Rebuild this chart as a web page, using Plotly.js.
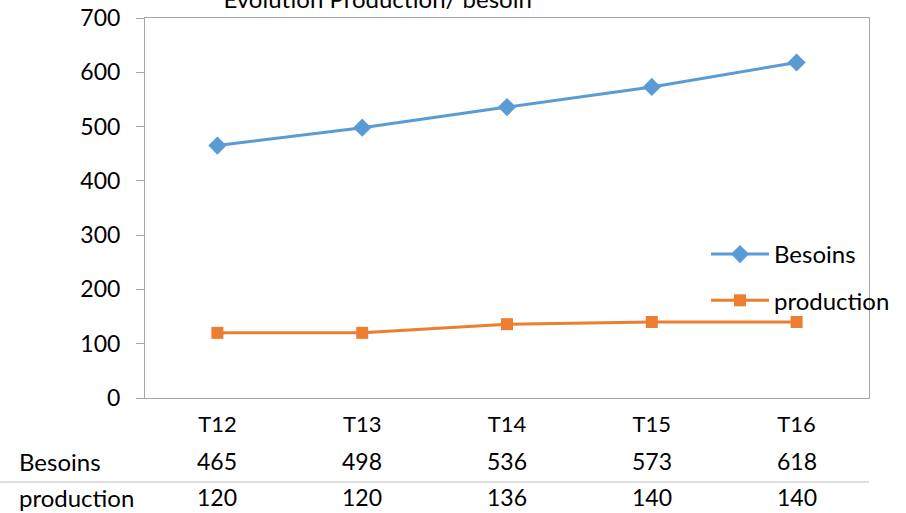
<!DOCTYPE html>
<html>
<head>
<meta charset="utf-8">
<script src="https://cdn.plot.ly/plotly-3.0.1.min.js"></script>
<style>html,body{margin:0;padding:0;background:#fff;}#chart{width:906px;height:513px;}</style>
</head>
<body>
<div id="chart"></div>
<script>
var categories = ["T12", "T13", "T14", "T15", "T16"];
var besoins = [465, 498, 536, 573, 618];
var production = [120, 120, 136, 140, 140];
var seriesNames = ["Besoins", "production"];
var yTicks = [0, 100, 200, 300, 400, 500, 600, 700];
var titleText = "Evolution Production/ besoin";

var FONT = "Lato, 'Open Sans', sans-serif";
var W = 906, H = 513, ML = 145, MR = 36, MT = 18, MB = 115;
var PW = W - ML - MR, PH = H - MT - MB;
function px2x(p) { return (p - ML) / PW; }
function py2y(p) { return (H - MB - p) / PH; }

var traces = [
  {x: categories, y: besoins, name: seriesNames[0], type: "scatter", mode: "lines+markers",
   line: {color: "#5B9BD5", width: 3}, marker: {symbol: "diamond", size: 14, color: "#5B9BD5"}, legendgroup: "a"},
  {x: categories, y: production, name: seriesNames[1], type: "scatter", mode: "lines+markers",
   line: {color: "#ED7D31", width: 3}, marker: {symbol: "square", size: 12, color: "#ED7D31"}, legendgroup: "b"}
];

var annotations = [];
var rows = [[seriesNames[0], besoins, 461], [seriesNames[1], production, 497]];
rows.forEach(function (r) {
  annotations.push({xref: "paper", yref: "paper", x: px2x(17), y: py2y(r[2]), xanchor: "left", yanchor: "middle",
    text: r[0], showarrow: false, font: {family: FONT, size: 24, color: "#000"}});
  r[1].forEach(function (v, i) {
    annotations.push({xref: "x", yref: "paper", x: categories[i], y: py2y(r[2]), xanchor: "center", yanchor: "middle",
      text: String(v), showarrow: false, font: {family: FONT, size: 23, color: "#000"}});
  });
});

var layout = {
  width: W, height: H,
  margin: {l: ML, r: MR, t: MT, b: MB},
  paper_bgcolor: "#fff", plot_bgcolor: "#fff",
  font: {family: FONT, size: 23, color: "#000"},
  title: {text: titleText, font: {family: FONT, size: 24, color: "#000"}, xref: "paper", x: px2x(378), xanchor: "center",
          yref: "container", y: 1, yanchor: "middle"},
  xaxis: {type: "category", range: [-0.5, 4.5], showgrid: false, zeroline: false,
          showline: true, linecolor: "#a6a6a6", linewidth: 1, mirror: true, ticks: "", ticklabelstandoff: 7,
          tickfont: {family: FONT, size: 22, color: "#000"}, fixedrange: true},
  yaxis: {range: [0, 700], tickvals: yTicks, showgrid: false, zeroline: false,
          showline: true, linecolor: "#a6a6a6", linewidth: 1, mirror: true, ticks: "outside", ticklen: 8, tickcolor: "#a6a6a6",
          tickfont: {family: FONT, size: 23, color: "#000"}, ticklabelstandoff: 11, fixedrange: true},
  showlegend: true,
  legend: {x: px2x(706), y: py2y(232), xanchor: "left", yanchor: "top", bgcolor: "rgba(0,0,0,0)", itemwidth: 58,
           font: {family: FONT, size: 24, color: "#000"}, tracegroupgap: 12, traceorder: "grouped"},
  shapes: [{type: "line", xref: "paper", yref: "paper", x0: px2x(0), x1: 1, y0: py2y(482), y1: py2y(482),
            line: {color: "#bfbfbf", width: 1}}],
  annotations: annotations
};

Plotly.newPlot("chart", traces, layout, {displayModeBar: false, staticPlot: true});
</script>
</body>
</html>
